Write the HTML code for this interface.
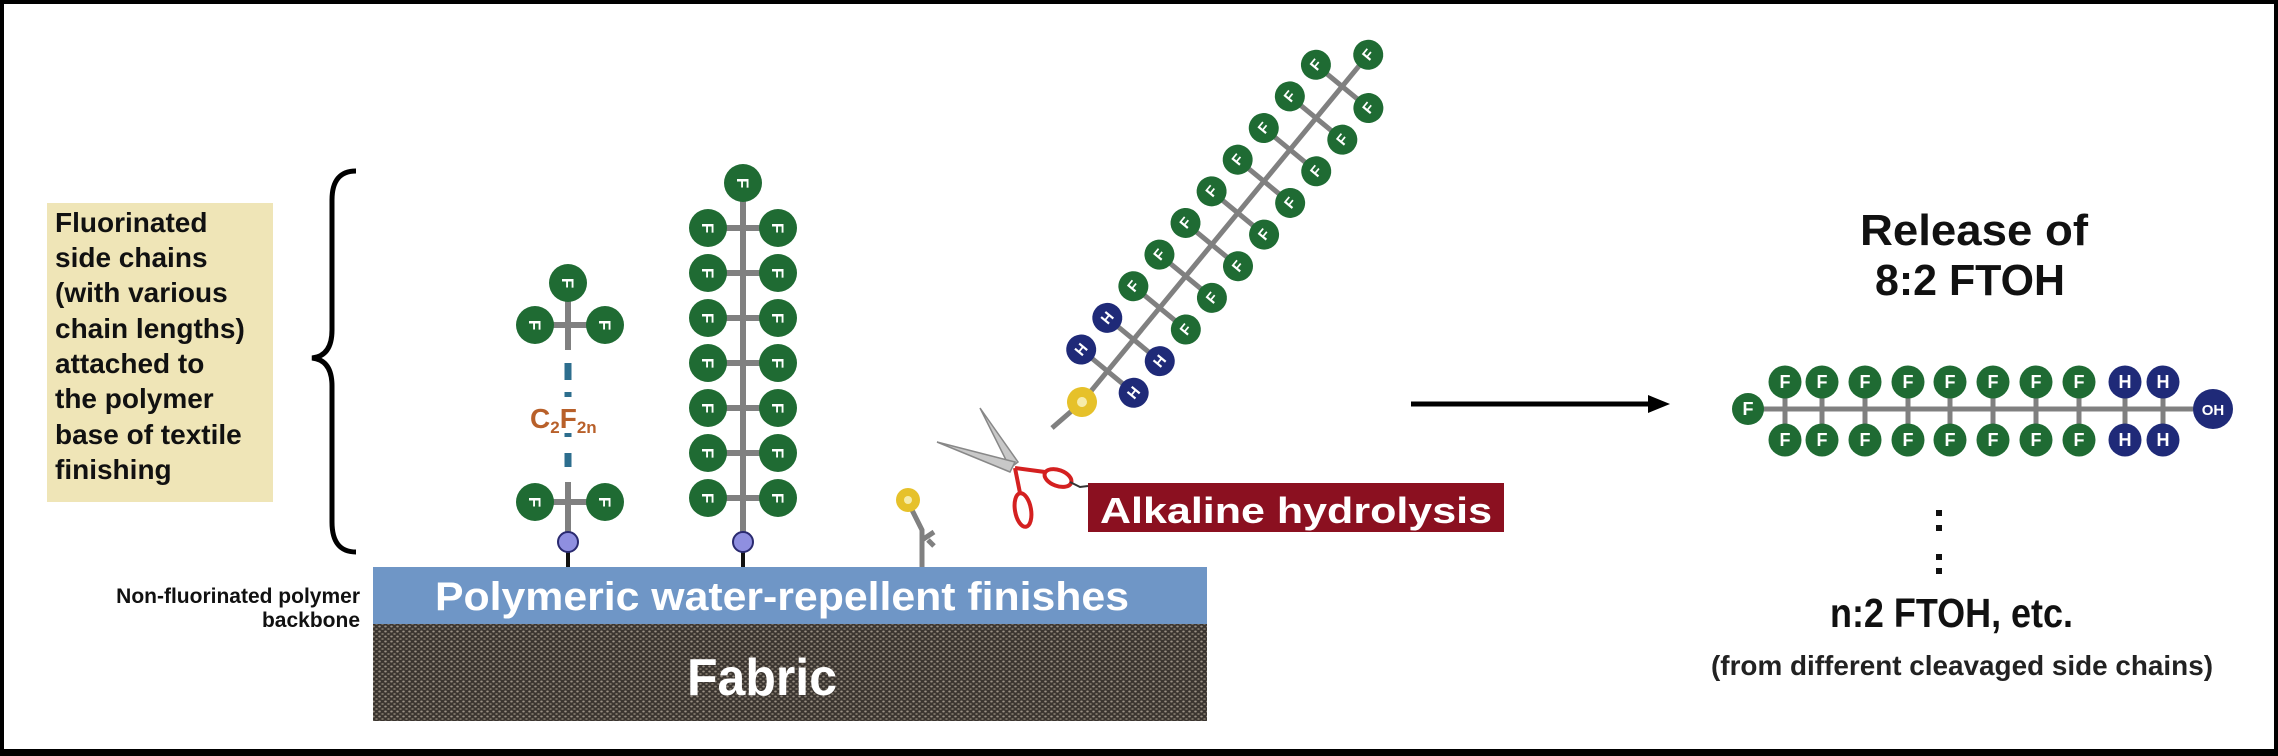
<!DOCTYPE html>
<html><head><meta charset="utf-8"><style>
html,body{margin:0;padding:0;background:#fff}
svg{display:block}
text{font-family:"Liberation Sans",sans-serif;font-weight:bold}
</style></head><body>
<svg width="2278" height="756" viewBox="0 0 2278 756" xmlns="http://www.w3.org/2000/svg">
<defs>
<pattern id="fab" width="6" height="5" patternUnits="userSpaceOnUse">
<rect width="6" height="5" fill="#3b3530"/>
<ellipse cx="1.5" cy="1.5" rx="1.3" ry="1" fill="#9a9084"/>
<ellipse cx="4.5" cy="4" rx="1.3" ry="1" fill="#7d7468"/>
</pattern>
</defs>
<rect x="0" y="0" width="2278" height="756" fill="#fff"/>
<rect x="2" y="2" width="2274" height="750" fill="none" stroke="#000" stroke-width="4"/>
<rect x="0" y="749" width="2278" height="7" fill="#000"/>

<!-- yellow label -->
<rect x="47" y="203" width="226" height="299" fill="#efe5b7"/>
<g font-size="28" fill="#111">
<text x="55" y="232">Fluorinated</text>
<text x="55" y="267">side chains</text>
<text x="55" y="302">(with various</text>
<text x="55" y="338">chain lengths)</text>
<text x="55" y="373">attached to</text>
<text x="55" y="408">the polymer</text>
<text x="55" y="444">base of textile</text>
<text x="55" y="479">finishing</text>
</g>
<!-- brace -->
<path d="M356,171 Q332,171 332,200 L332,330 Q332,356 312,358 Q332,360 332,386 L332,522 Q332,552 356,552" fill="none" stroke="#000" stroke-width="5"/>
<text x="360" y="603" font-size="21" text-anchor="end" fill="#111">Non-fluorinated polymer</text>
<text x="360" y="627" font-size="21" text-anchor="end" fill="#111">backbone</text>

<!-- bar & fabric -->
<rect x="373" y="567" width="834" height="57" fill="#6f96c6"/>
<rect x="373" y="624" width="834" height="97" fill="url(#fab)"/>
<text x="435" y="610" font-size="40" fill="#fff" textLength="694" lengthAdjust="spacingAndGlyphs">Polymeric water-repellent finishes</text>
<text x="687" y="695" font-size="52" fill="#fff" textLength="150" lengthAdjust="spacingAndGlyphs">Fabric</text>

<!-- short chain -->
<g stroke="#808080" stroke-width="6">
<line x1="568" y1="283" x2="568" y2="350"/>
<line x1="535" y1="325" x2="605" y2="325"/>
<line x1="568" y1="482" x2="568" y2="542"/>
<line x1="535" y1="502" x2="605" y2="502"/>
</g>
<g stroke="#2d6e8e" stroke-width="7">
<line x1="568" y1="363" x2="568" y2="380"/>
<line x1="568" y1="392" x2="568" y2="397"/>
<line x1="568" y1="433" x2="568" y2="437"/>
<line x1="568" y1="453" x2="568" y2="467"/>
</g>
<text x="530" y="428" font-size="28" fill="#b8602a">C<tspan font-size="17" dy="5">2</tspan><tspan dy="-5">F</tspan><tspan font-size="17" dy="5">2n</tspan></text>
<line x1="568" y1="550" x2="568" y2="567" stroke="#111" stroke-width="4"/>
<circle cx="568" cy="542" r="10" fill="#8f8fe0" stroke="#2a2a70" stroke-width="2"/>
<g fill="#1f6b33">
<circle cx="568" cy="283" r="19"/><circle cx="535" cy="325" r="19"/><circle cx="605" cy="325" r="19"/>
<circle cx="535" cy="502" r="19"/><circle cx="605" cy="502" r="19"/>
</g>

<!-- long chain -->
<g stroke="#808080" stroke-width="6">
<line x1="743" y1="183" x2="743" y2="542"/>
<line x1="708" y1="228" x2="778" y2="228"/><line x1="708" y1="273" x2="778" y2="273"/>
<line x1="708" y1="318" x2="778" y2="318"/><line x1="708" y1="363" x2="778" y2="363"/>
<line x1="708" y1="408" x2="778" y2="408"/><line x1="708" y1="453" x2="778" y2="453"/>
<line x1="708" y1="498" x2="778" y2="498"/>
</g>
<line x1="743" y1="550" x2="743" y2="567" stroke="#111" stroke-width="4"/>
<circle cx="743" cy="542" r="10" fill="#8f8fe0" stroke="#2a2a70" stroke-width="2"/>
<g fill="#1f6b33">
<circle cx="743" cy="183" r="19"/>
<circle cx="708" cy="228" r="19"/><circle cx="778" cy="228" r="19"/>
<circle cx="708" cy="273" r="19"/><circle cx="778" cy="273" r="19"/>
<circle cx="708" cy="318" r="19"/><circle cx="778" cy="318" r="19"/>
<circle cx="708" cy="363" r="19"/><circle cx="778" cy="363" r="19"/>
<circle cx="708" cy="408" r="19"/><circle cx="778" cy="408" r="19"/>
<circle cx="708" cy="453" r="19"/><circle cx="778" cy="453" r="19"/>
<circle cx="708" cy="498" r="19"/><circle cx="778" cy="498" r="19"/>
</g>
<g font-size="17" fill="#fff" text-anchor="middle">
<text transform="translate(568,283) rotate(90)" y="6">F</text>
<text transform="translate(535,325) rotate(90)" y="6">F</text>
<text transform="translate(605,325) rotate(90)" y="6">F</text>
<text transform="translate(535,502) rotate(90)" y="6">F</text>
<text transform="translate(605,502) rotate(90)" y="6">F</text>
<text transform="translate(743,183) rotate(90)" y="6">F</text>
<text transform="translate(708,228) rotate(90)" y="6">F</text><text transform="translate(778,228) rotate(90)" y="6">F</text>
<text transform="translate(708,273) rotate(90)" y="6">F</text><text transform="translate(778,273) rotate(90)" y="6">F</text>
<text transform="translate(708,318) rotate(90)" y="6">F</text><text transform="translate(778,318) rotate(90)" y="6">F</text>
<text transform="translate(708,363) rotate(90)" y="6">F</text><text transform="translate(778,363) rotate(90)" y="6">F</text>
<text transform="translate(708,408) rotate(90)" y="6">F</text><text transform="translate(778,408) rotate(90)" y="6">F</text>
<text transform="translate(708,453) rotate(90)" y="6">F</text><text transform="translate(778,453) rotate(90)" y="6">F</text>
<text transform="translate(708,498) rotate(90)" y="6">F</text><text transform="translate(778,498) rotate(90)" y="6">F</text>
</g>

<!-- small cleaved stub -->
<path d="M912,510 L922,530 L922,567 M922,540 L934,532 M928,540 L934,546" fill="none" stroke="#808080" stroke-width="5"/>
<circle cx="908" cy="500" r="12" fill="#e6c12a"/><circle cx="908" cy="500" r="4" fill="#f6ecaa"/>

<!-- scissors -->
<polygon points="980,408 1018,462 1010,468" fill="#c8c8c8" stroke="#888" stroke-width="1.5"/>
<polygon points="937,442 1015,462 1010,472" fill="#c8c8c8" stroke="#888" stroke-width="1.5"/>
<ellipse cx="1058" cy="478" rx="14" ry="8" transform="rotate(20 1058 478)" fill="none" stroke="#d42020" stroke-width="4"/>
<ellipse cx="1023" cy="510" rx="8" ry="17" transform="rotate(-10 1023 510)" fill="none" stroke="#d42020" stroke-width="4"/>
<line x1="1015" y1="468" x2="1045" y2="472" stroke="#d42020" stroke-width="4"/>
<line x1="1015" y1="468" x2="1020" y2="493" stroke="#d42020" stroke-width="4"/>
<path d="M1070,482 L1080,487 L1088,486" fill="none" stroke="#333" stroke-width="2"/>

<!-- alkaline box -->
<rect x="1088" y="483" width="416" height="49" fill="#8b1020"/>
<text x="1100" y="523" font-size="36" fill="#fff" textLength="392" lengthAdjust="spacingAndGlyphs">Alkaline hydrolysis</text>

<!-- diagonal chain -->
<line x1="1082" y1="402" x2="1052" y2="428" stroke="#808080" stroke-width="5"/>
<g transform="translate(1082,402) rotate(-50.5)">
<g stroke="#808080" stroke-width="5">
<line x1="0" y1="0" x2="450" y2="0"/>
<line x1="40" y1="-34" x2="40" y2="34"/><line x1="81" y1="-34" x2="81" y2="34"/>
<line x1="122" y1="-34" x2="122" y2="34"/><line x1="163" y1="-34" x2="163" y2="34"/>
<line x1="204" y1="-34" x2="204" y2="34"/><line x1="245" y1="-34" x2="245" y2="34"/>
<line x1="286" y1="-34" x2="286" y2="34"/><line x1="327" y1="-34" x2="327" y2="34"/>
<line x1="368" y1="-34" x2="368" y2="34"/><line x1="409" y1="-34" x2="409" y2="34"/>
</g>
<g fill="#1f2a78">
<circle cx="40" cy="-34" r="15"/><circle cx="40" cy="34" r="15"/>
<circle cx="81" cy="-34" r="15"/><circle cx="81" cy="34" r="15"/>
</g>
<g fill="#1f6b33">
<circle cx="122" cy="-34" r="15"/><circle cx="122" cy="34" r="15"/>
<circle cx="163" cy="-34" r="15"/><circle cx="163" cy="34" r="15"/>
<circle cx="204" cy="-34" r="15"/><circle cx="204" cy="34" r="15"/>
<circle cx="245" cy="-34" r="15"/><circle cx="245" cy="34" r="15"/>
<circle cx="286" cy="-34" r="15"/><circle cx="286" cy="34" r="15"/>
<circle cx="327" cy="-34" r="15"/><circle cx="327" cy="34" r="15"/>
<circle cx="368" cy="-34" r="15"/><circle cx="368" cy="34" r="15"/>
<circle cx="409" cy="-34" r="15"/><circle cx="409" cy="34" r="15"/>
<circle cx="450" cy="0" r="15"/>
</g>
<g font-size="15" fill="#fff" text-anchor="middle">
<text x="40" y="-29">H</text><text x="40" y="39">H</text>
<text x="81" y="-29">H</text><text x="81" y="39">H</text>
<text x="122" y="-29">F</text><text x="122" y="39">F</text>
<text x="163" y="-29">F</text><text x="163" y="39">F</text>
<text x="204" y="-29">F</text><text x="204" y="39">F</text>
<text x="245" y="-29">F</text><text x="245" y="39">F</text>
<text x="286" y="-29">F</text><text x="286" y="39">F</text>
<text x="327" y="-29">F</text><text x="327" y="39">F</text>
<text x="368" y="-29">F</text><text x="368" y="39">F</text>
<text x="409" y="-29">F</text><text x="409" y="39">F</text>
<text x="450" y="5">F</text>
</g>
<circle cx="0" cy="0" r="15" fill="#e6c12a"/><circle cx="0" cy="0" r="5" fill="#f6ecaa"/>
</g>

<!-- arrow -->
<line x1="1411" y1="404" x2="1652" y2="404" stroke="#000" stroke-width="5"/>
<polygon points="1648,395 1670,404 1648,413" fill="#000"/>

<!-- right side -->
<text x="1974" y="245" font-size="44" text-anchor="middle" fill="#111" textLength="228" lengthAdjust="spacingAndGlyphs">Release of</text>
<text x="1970" y="295" font-size="44" text-anchor="middle" fill="#111" textLength="190" lengthAdjust="spacingAndGlyphs">8:2 FTOH</text>

<g stroke="#808080" stroke-width="5">
<line x1="1748" y1="409" x2="2213" y2="409"/>
<line x1="1785" y1="382" x2="1785" y2="440"/><line x1="1822" y1="382" x2="1822" y2="440"/>
<line x1="1865" y1="382" x2="1865" y2="440"/><line x1="1908" y1="382" x2="1908" y2="440"/>
<line x1="1950" y1="382" x2="1950" y2="440"/><line x1="1993" y1="382" x2="1993" y2="440"/>
<line x1="2036" y1="382" x2="2036" y2="440"/><line x1="2079" y1="382" x2="2079" y2="440"/>
<line x1="2125" y1="382" x2="2125" y2="440"/><line x1="2163" y1="382" x2="2163" y2="440"/>
</g>
<g fill="#1f6b33">
<circle cx="1748" cy="409" r="16"/>
<circle cx="1785" cy="382" r="16.5"/><circle cx="1785" cy="440" r="16.5"/>
<circle cx="1822" cy="382" r="16.5"/><circle cx="1822" cy="440" r="16.5"/>
<circle cx="1865" cy="382" r="16.5"/><circle cx="1865" cy="440" r="16.5"/>
<circle cx="1908" cy="382" r="16.5"/><circle cx="1908" cy="440" r="16.5"/>
<circle cx="1950" cy="382" r="16.5"/><circle cx="1950" cy="440" r="16.5"/>
<circle cx="1993" cy="382" r="16.5"/><circle cx="1993" cy="440" r="16.5"/>
<circle cx="2036" cy="382" r="16.5"/><circle cx="2036" cy="440" r="16.5"/>
<circle cx="2079" cy="382" r="16.5"/><circle cx="2079" cy="440" r="16.5"/>
</g>
<g fill="#1f2a78">
<circle cx="2125" cy="382" r="16.5"/><circle cx="2125" cy="440" r="16.5"/>
<circle cx="2163" cy="382" r="16.5"/><circle cx="2163" cy="440" r="16.5"/>
<circle cx="2213" cy="409" r="20"/>
</g>
<g font-size="18" fill="#fff" text-anchor="middle">
<text x="1748" y="415">F</text>
<text x="1785" y="388">F</text><text x="1785" y="446">F</text>
<text x="1822" y="388">F</text><text x="1822" y="446">F</text>
<text x="1865" y="388">F</text><text x="1865" y="446">F</text>
<text x="1908" y="388">F</text><text x="1908" y="446">F</text>
<text x="1950" y="388">F</text><text x="1950" y="446">F</text>
<text x="1993" y="388">F</text><text x="1993" y="446">F</text>
<text x="2036" y="388">F</text><text x="2036" y="446">F</text>
<text x="2079" y="388">F</text><text x="2079" y="446">F</text>
<text x="2125" y="388">H</text><text x="2125" y="446">H</text>
<text x="2163" y="388">H</text><text x="2163" y="446">H</text>
<text x="2213" y="415" font-size="15">OH</text>
</g>

<g fill="#111">
<rect x="1936" y="510" width="6" height="6"/><rect x="1936" y="525" width="6" height="6"/>
<rect x="1936" y="554" width="6" height="6"/><rect x="1936" y="568" width="6" height="6"/>
</g>
<text x="1830" y="627" font-size="41" fill="#111" textLength="243" lengthAdjust="spacingAndGlyphs">n:2 FTOH, etc.</text>
<text x="1711" y="675" font-size="28" fill="#222" textLength="502" lengthAdjust="spacingAndGlyphs">(from different cleavaged side chains)</text>
</svg>
</body></html>
